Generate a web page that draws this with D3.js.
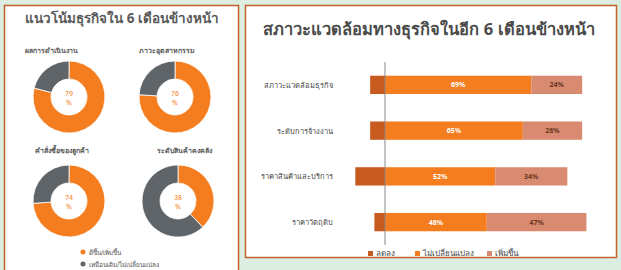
<!DOCTYPE html>
<html>
<head>
<meta charset="utf-8">
<script src="https://cdn.jsdelivr.net/npm/d3@7"></script>
<style>
  body { margin: 0; background: #dcede1; }
  svg text { font-family: "Noto Sans", "DejaVu Sans", sans-serif; }
</style>
</head>
<body>
<script>
// width and height
var w = 621;
var h = 270;

// donut data (left panel)
const donutTitles = ["ผลการดำเนินงาน", "ภาวะอุตสาหกรรม", "คำสั่งซื้อของลูกค้า", "ระดับสินค้าคงคลัง"];
const donutUp = [79, 76, 74, 38];
const donutLegend = ["ดีขึ้น/เพิ่มขึ้น", "เหมือนเดิม/ไม่เปลี่ยนแปลง"];

// bar data (right panel)
const barCategories = ["สภาวะแวดล้อมธุรกิจ", "ระดับการจ้างงาน", "ราคาสินค้าและบริการ", "ราคาวัตถุดิบ"];
const decrease = [7, 7, 14, 5];
const same = [69, 65, 52, 48];
const increase = [24, 28, 34, 47];
const barLegend = ["ลดลง", "ไม่เปลี่ยนแปลง", "เพิ่มขึ้น"];

const orange = "#f47d20";
const grey = "#5f6469";
const dark = "#c75a1f";
const light = "#d98b72";
const border = "#c0622a";

const svg = d3.select("body")
  .append("svg")
    .attr("width", w)
    .attr("height", h);

// panels
svg.append("rect")
  .attr("x", 4.5).attr("y", 5.5).attr("width", 234).attr("height", 270)
  .attr("fill", "white").attr("stroke", border).attr("stroke-width", 1.5);

svg.append("rect")
  .attr("x", 245.5).attr("y", 5.5).attr("width", 371).attr("height", 252)
  .attr("fill", "white").attr("stroke", border).attr("stroke-width", 1.5);

// ---- left panel: donuts ----
svg.append("text")
  .attr("x", 122).attr("y", 23)
  .attr("text-anchor", "middle")
  .attr("font-size", 13.5).attr("font-weight", "bold")
  .attr("fill", "#5a5a5a")
  .text("แนวโน้มธุรกิจใน 6 เดือนข้างหน้า");

const centers = [[69, 97], [175, 97], [69, 201], [178, 201]];
const titlePos = [[51, 53], [167, 53], [62, 153], [184, 153]];

const pie = d3.pie().sort(null).startAngle(0).endAngle(2 * Math.PI);
const arc = d3.arc().innerRadius(18).outerRadius(36);

donutUp.forEach(function(v, i) {
  svg.append("text")
    .attr("x", titlePos[i][0]).attr("y", titlePos[i][1])
    .attr("text-anchor", "middle")
    .attr("font-size", 7).attr("font-weight", "bold")
    .attr("fill", "#5a5a5a")
    .text(donutTitles[i]);

  const g = svg.append("g")
    .attr("transform", `translate(${centers[i][0]}, ${centers[i][1]})`);

  g.selectAll("path")
    .data(pie([v, 100 - v]))
    .enter()
    .append("path")
      .attr("d", arc)
      .attr("fill", (d, j) => j === 0 ? orange : grey)
      .attr("stroke", "white")
      .attr("stroke-width", 0.8);

  g.append("text")
    .attr("y", -1)
    .attr("text-anchor", "middle")
    .attr("font-size", 7)
    .attr("fill", orange)
    .text(v);

  g.append("text")
    .attr("y", 8)
    .attr("text-anchor", "middle")
    .attr("font-size", 7)
    .attr("fill", orange)
    .text("%");
});

// donut legend
donutLegend.forEach(function(t, i) {
  svg.append("circle")
    .attr("cx", 83).attr("cy", 252 + i * 12).attr("r", 2.5)
    .attr("fill", i === 0 ? orange : grey);
  svg.append("text")
    .attr("x", 89).attr("y", 254.5 + i * 12)
    .attr("font-size", 6.5)
    .attr("fill", "#555")
    .text(t);
});

// ---- right panel: diverging stacked bars ----
svg.append("text")
  .attr("x", 429).attr("y", 35)
  .attr("text-anchor", "middle")
  .attr("font-size", 16.5).attr("font-weight", "bold")
  .attr("fill", "#4a4a4a")
  .text("สภาวะแวดล้อมทางธุรกิจในอีก 6 เดือนข้างหน้า");

const xScale = d3.scaleLinear()
  .domain([-15, 100])
  .range([385 - 15 * 2.12, 385 + 100 * 2.12]);

const yScale = d3.scaleBand()
  .domain(barCategories)
  .range([62, 245])
  .paddingInner(0.6)
  .paddingOuter(0.3);

const rows = barCategories.map((c, i) => ({ c: c, dec: decrease[i], same: same[i], inc: increase[i] }));

const row = svg.selectAll(".row")
  .data(rows)
  .enter()
  .append("g")
    .attr("class", "row")
    .attr("transform", d => `translate(0, ${yScale(d.c)})`);

row.append("rect")
  .attr("x", d => xScale(-d.dec))
  .attr("width", d => xScale(0) - xScale(-d.dec))
  .attr("height", yScale.bandwidth())
  .attr("fill", dark);

row.append("rect")
  .attr("x", xScale(0))
  .attr("width", d => xScale(d.same) - xScale(0))
  .attr("height", yScale.bandwidth())
  .attr("fill", orange);

row.append("rect")
  .attr("x", d => xScale(d.same))
  .attr("width", d => xScale(d.same + d.inc) - xScale(d.same))
  .attr("height", yScale.bandwidth())
  .attr("fill", light);

row.append("text")
  .attr("x", d => xScale(d.same / 2))
  .attr("y", yScale.bandwidth() / 2 + 2.5)
  .attr("text-anchor", "middle")
  .attr("font-size", 7).attr("font-weight", "bold")
  .attr("fill", "white")
  .text(d => d.same + "%");

row.append("text")
  .attr("x", d => xScale(d.same + d.inc / 2))
  .attr("y", yScale.bandwidth() / 2 + 2.5)
  .attr("text-anchor", "middle")
  .attr("font-size", 7).attr("font-weight", "bold")
  .attr("fill", "#6b3420")
  .text(d => d.inc + "%");

row.append("text")
  .attr("x", 333)
  .attr("y", yScale.bandwidth() / 2 + 3)
  .attr("text-anchor", "end")
  .attr("font-size", 7.5)
  .attr("fill", "#444")
  .text(d => d.c);

// zero line
svg.append("line")
  .attr("x1", xScale(0)).attr("x2", xScale(0))
  .attr("y1", 62).attr("y2", 245)
  .attr("stroke", "#888").attr("stroke-width", 1);

// bar legend
const legX = [368, 415, 487];
const legCol = [dark, orange, light];
barLegend.forEach(function(t, i) {
  svg.append("rect")
    .attr("x", legX[i]).attr("y", 251).attr("width", 5).attr("height", 5)
    .attr("fill", legCol[i]);
  svg.append("text")
    .attr("x", legX[i] + 8).attr("y", 256)
    .attr("font-size", 8)
    .attr("fill", "#444")
    .text(t);
});
</script>
</body>
</html>
